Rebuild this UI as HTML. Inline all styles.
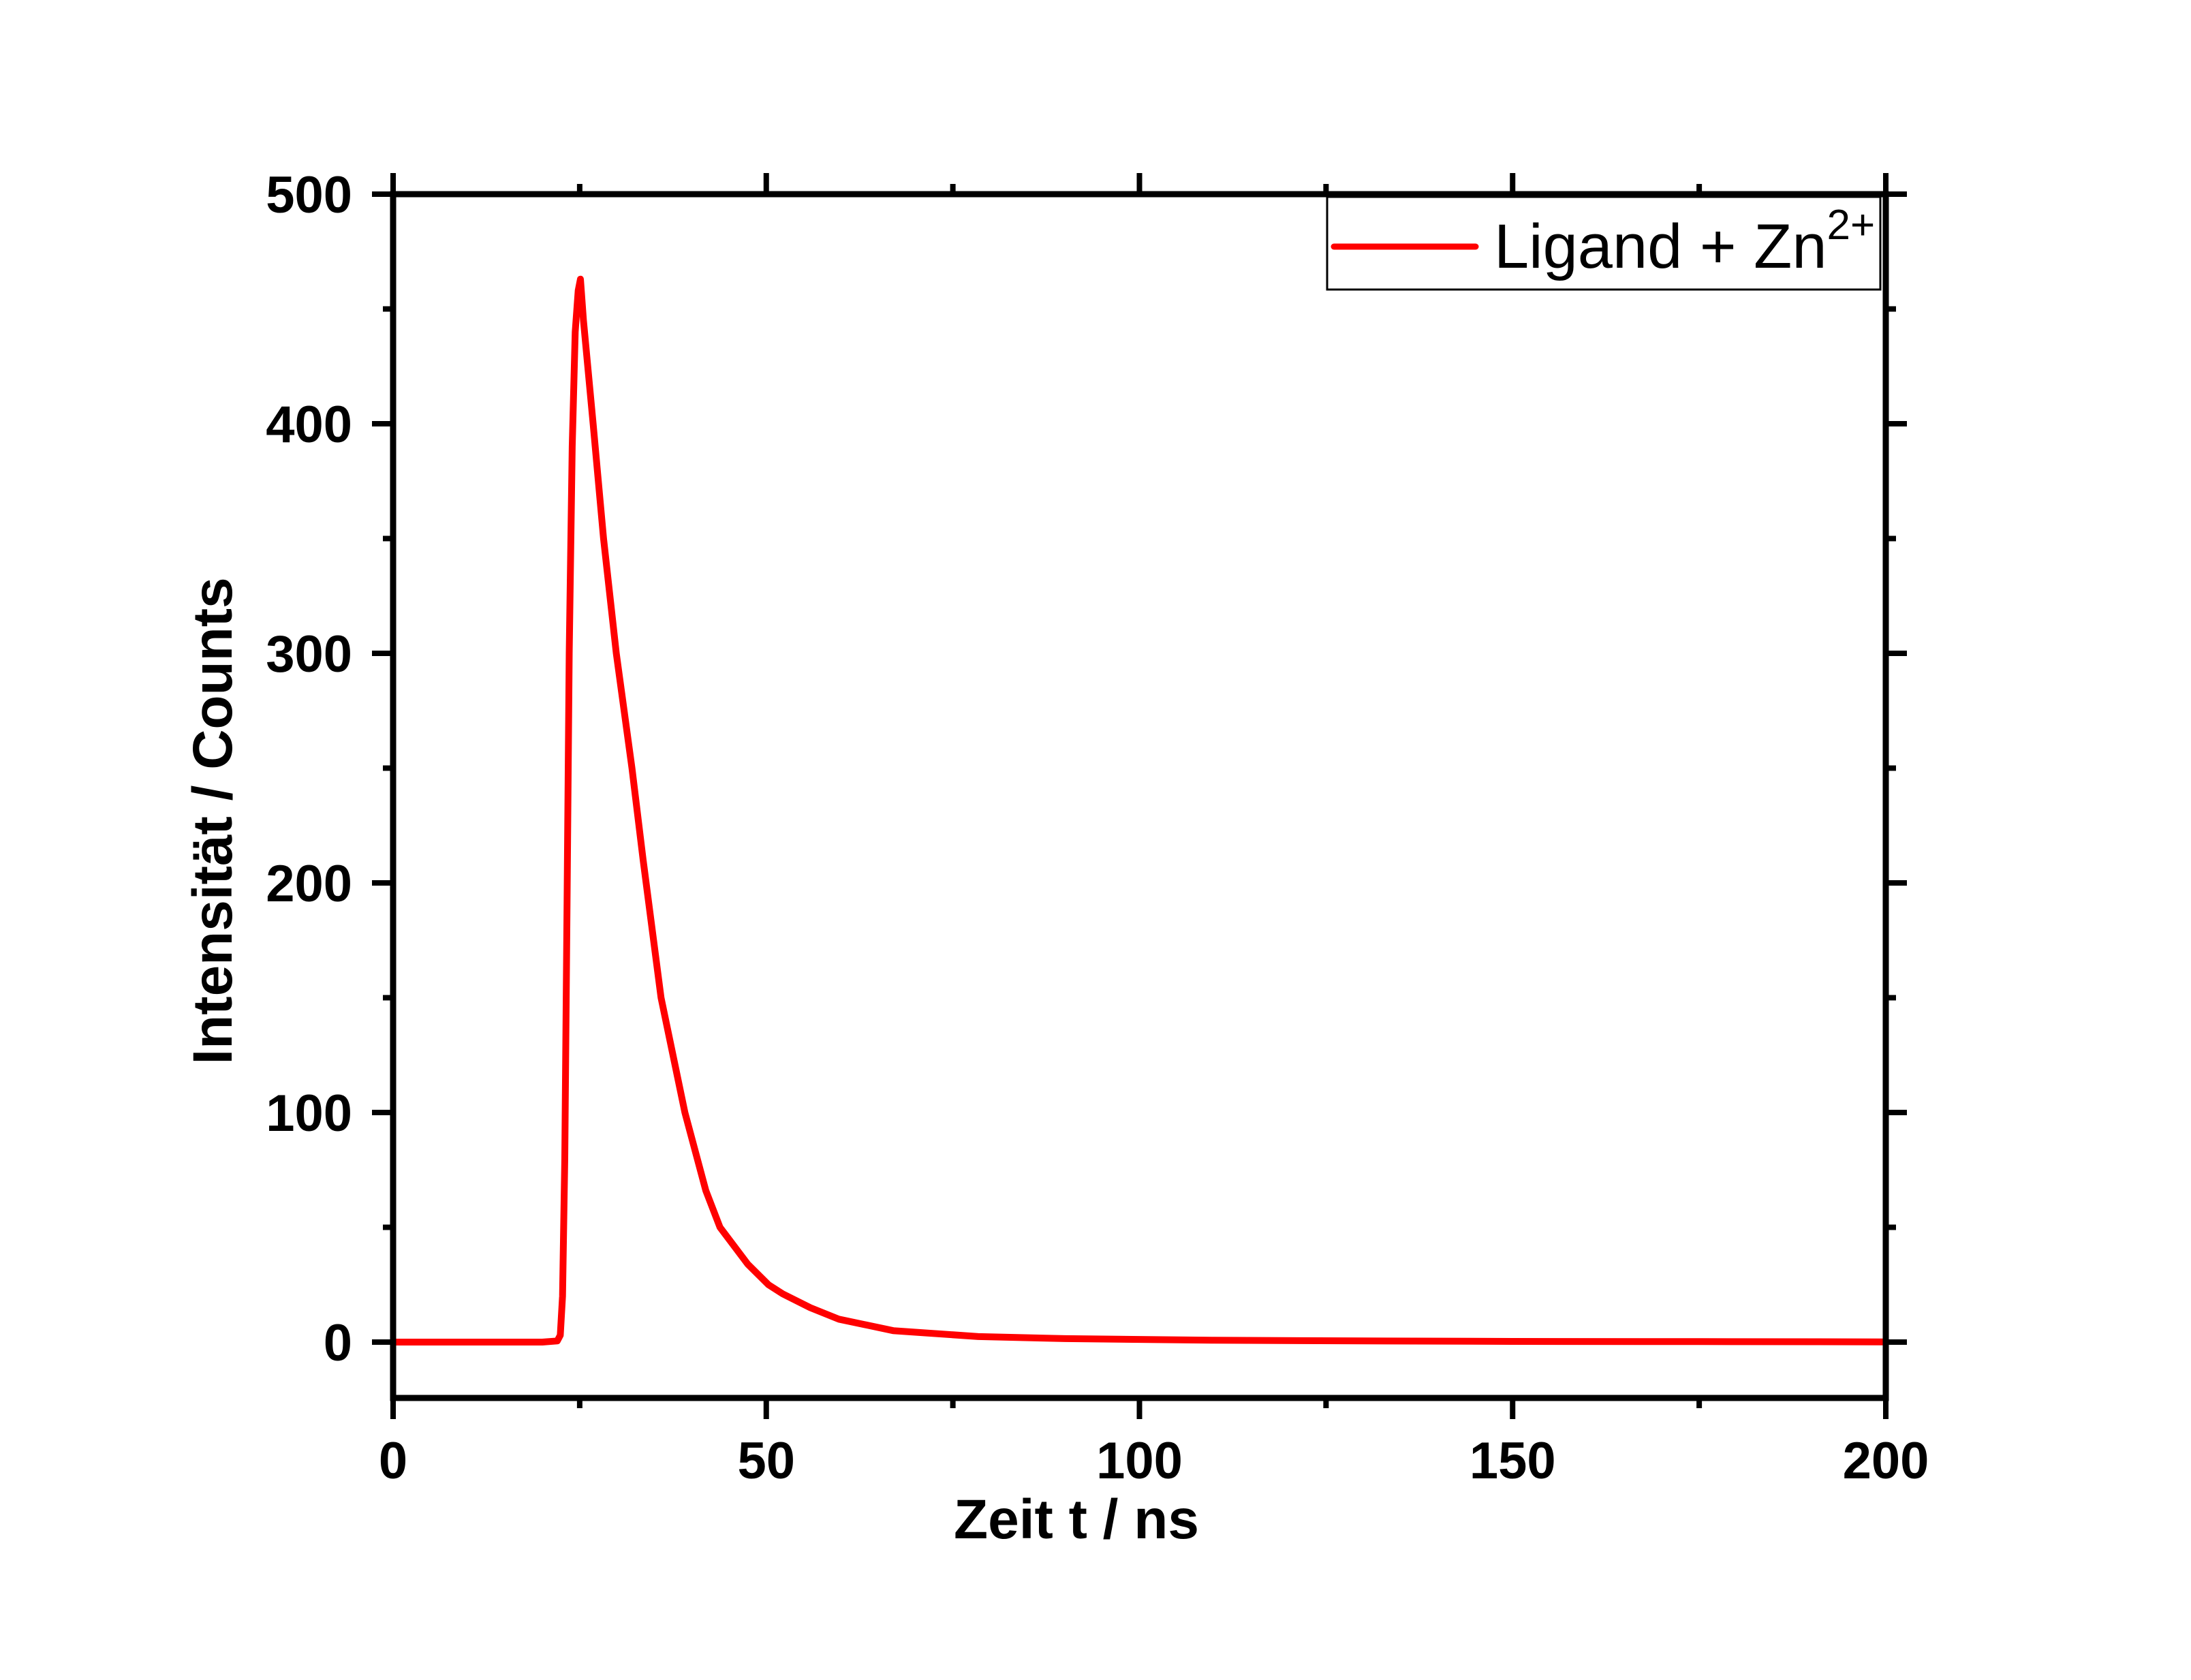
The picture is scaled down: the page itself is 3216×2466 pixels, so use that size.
<!DOCTYPE html>
<html><head><meta charset="utf-8"><style>
html,body{margin:0;padding:0;background:#fff;}
svg text{font-family:"Liberation Sans",Arial,sans-serif;}
</style></head><body>
<svg id="chart" width="3216" height="2461" viewBox="0 0 3216 2461" xmlns="http://www.w3.org/2000/svg">
<rect width="3216" height="2461" fill="#fff"/>
<g id="plot"></g>
</svg>
<script>
const times = [0,5,10,15,20,22,22.4,22.7,23.0,23.3,23.6,24.0,24.4,24.8,25.1,25.5,26.8,28.2,29.9,32.0,33.5,35.9,39.1,41.9,43.8,47.5,50.3,52.2,55.9,59.7,67,78.4,90,110,130,150,175,200];
const counts = [0,0,0,0,0,0.5,3,20,80,190,300,390,440,458,463,445,400,350,300,250,210,150,100,66,50,34,25,21,15,10,5,2.4,1.5,0.8,0.5,0.3,0.2,0.1];
const xTicks = [0,50,100,150,200];
const yTicks = [0,100,200,300,400,500];
const xMinor = [25,75,125,175];
const yMinor = [50,150,250,350,450];
const X0=577,X1=2768,Y0=1970,Y500=285;
const xs=v=>X0+(v-0)*(X1-X0)/200;
const ys=v=>Y0-(v)*(Y0-Y500)/500;
const yBot=2052, yTop=285;
const g=document.getElementById('plot');
const NS='http://www.w3.org/2000/svg';
function mk(t,a){const e=document.createElementNS(NS,t);for(const k in a)e.setAttribute(k,a[k]);g.appendChild(e);return e;}
let d='';
for(let i=0;i<times.length;i++){d+=(i?'L':'M')+xs(times[i]).toFixed(1)+','+ys(counts[i]).toFixed(1);}
const curve=mk('path',{d:d,fill:'none',stroke:'#ff0000','stroke-width':10,'stroke-linejoin':'round'});


const frame=mk('rect',{x:X0,y:yTop,width:X1-X0,height:yBot-yTop,fill:'none',stroke:'#000','stroke-width':9});


xTicks.forEach(v=>{const x=xs(v);
 const t1=mk('line',{x1:x,x2:x,y1:yBot,y2:yBot+31,stroke:'#000','stroke-width':8});
 
 
 mk('line',{x1:x,x2:x,y1:yTop,y2:yTop-31,stroke:'#000','stroke-width':8});
 const l=mk('text',{x:x,y:2170,'font-size':76,'font-weight':'bold','text-anchor':'middle'});
 l.textContent=v;
 
 
});
xMinor.forEach(v=>{const x=xs(v);
 mk('line',{x1:x,x2:x,y1:yBot,y2:yBot+15,stroke:'#000','stroke-width':8});
 mk('line',{x1:x,x2:x,y1:yTop,y2:yTop-15,stroke:'#000','stroke-width':8});
});
yTicks.forEach(v=>{const y=ys(v);
 const t1=mk('line',{x1:X0,x2:X0-31,y1:y,y2:y,stroke:'#000','stroke-width':8});
 
 
 mk('line',{x1:X1,x2:X1+31,y1:y,y2:y,stroke:'#000','stroke-width':8});
 const l=mk('text',{x:517,y:y+27,'font-size':76,'font-weight':'bold','text-anchor':'end'});
 l.textContent=v;
 
 
});
yMinor.forEach(v=>{const y=ys(v);
 mk('line',{x1:X0,x2:X0-15,y1:y,y2:y,stroke:'#000','stroke-width':8});
 mk('line',{x1:X1,x2:X1+15,y1:y,y2:y,stroke:'#000','stroke-width':8});
});
const xt=mk('text',{x:1580,y:2258,'font-size':82,'font-weight':'bold','text-anchor':'middle'});
xt.textContent='Zeit t / ns';


const yt=mk('text',{x:0,y:0,'font-size':82,'font-weight':'bold','text-anchor':'middle',transform:'translate(340,1205) rotate(-90)'});
yt.textContent='Intensität / Counts';


const lb=mk('rect',{x:1948,y:289,width:812,height:136,fill:'#fff',stroke:'#000','stroke-width':3});


const ll=mk('line',{x1:1958,x2:2166,y1:362,y2:362,stroke:'#ff0000','stroke-width':9,'stroke-linecap':'round'});


const lt=mk('text',{x:2193,y:393,'font-size':92});
lt.innerHTML='Ligand + Zn<tspan font-size="62" dy="-42">2+</tspan>';


</script>
</body></html>
